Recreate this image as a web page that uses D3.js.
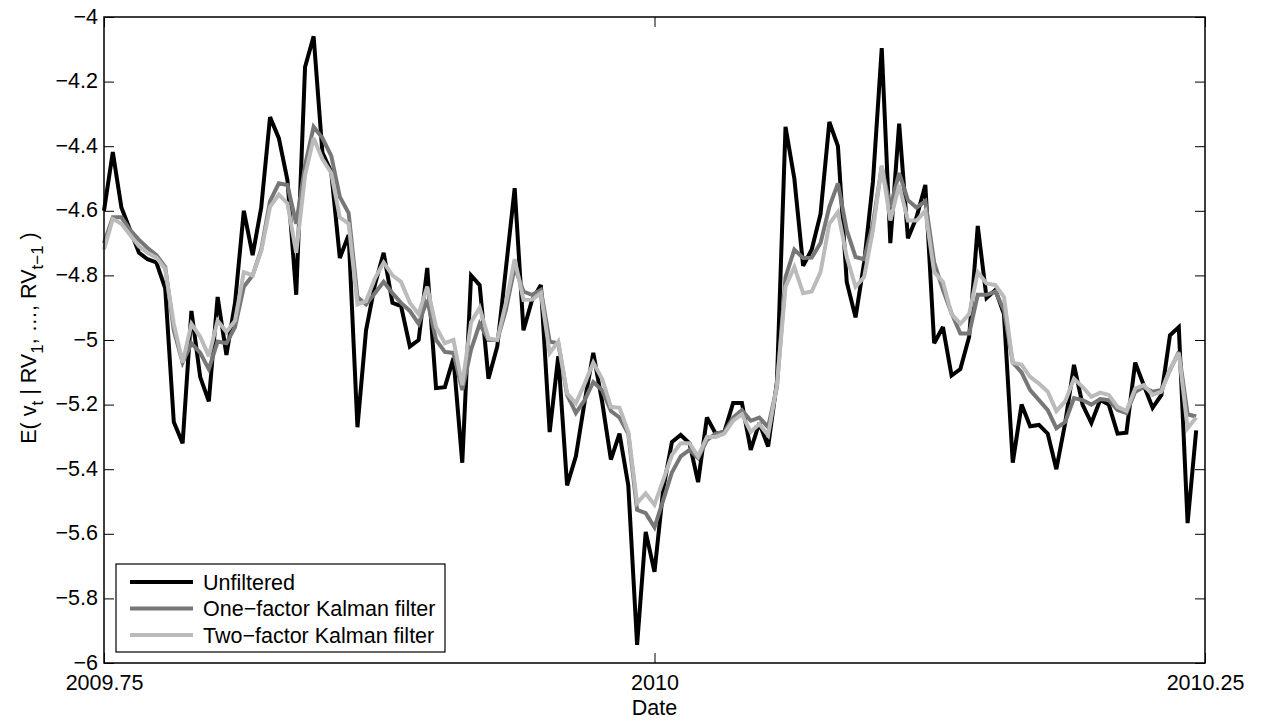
<!DOCTYPE html>
<html>
<head>
<meta charset="utf-8">
<script src="https://cdn.jsdelivr.net/npm/d3@7"></script>
<style>
  body { margin: 0; background: #fff; }
  text { font-family: "Liberation Sans", Arial, sans-serif; }
</style>
</head>
<body>
<div id="chart"></div>
<script>
// dates (fraction of year, one per trading day)
const dates = [
  2009.7500, 2009.7540, 2009.7579, 2009.7619, 2009.7659, 2009.7698, 2009.7738, 2009.7778, 2009.7817, 2009.7857,
  2009.7897, 2009.7937, 2009.7976, 2009.8016, 2009.8056, 2009.8095, 2009.8135, 2009.8175, 2009.8214, 2009.8254,
  2009.8294, 2009.8333, 2009.8373, 2009.8413, 2009.8452, 2009.8492, 2009.8532, 2009.8571, 2009.8611, 2009.8651,
  2009.8690, 2009.8730, 2009.8770, 2009.8810, 2009.8849, 2009.8889, 2009.8929, 2009.8968, 2009.9008, 2009.9048,
  2009.9087, 2009.9127, 2009.9167, 2009.9206, 2009.9246, 2009.9286, 2009.9325, 2009.9365, 2009.9405, 2009.9444,
  2009.9484, 2009.9524, 2009.9563, 2009.9603, 2009.9643, 2009.9683, 2009.9722, 2009.9762, 2009.9802, 2009.9841,
  2009.9881, 2009.9921, 2009.9960, 2010.0000, 2010.0040, 2010.0079, 2010.0119, 2010.0159, 2010.0198, 2010.0238,
  2010.0278, 2010.0317, 2010.0357, 2010.0397, 2010.0437, 2010.0476, 2010.0516, 2010.0556, 2010.0595, 2010.0635,
  2010.0675, 2010.0714, 2010.0754, 2010.0794, 2010.0833, 2010.0873, 2010.0913, 2010.0952, 2010.0992, 2010.1032,
  2010.1071, 2010.1111, 2010.1151, 2010.1190, 2010.1230, 2010.1270, 2010.1310, 2010.1349, 2010.1389, 2010.1429,
  2010.1468, 2010.1508, 2010.1548, 2010.1587, 2010.1627, 2010.1667, 2010.1706, 2010.1746, 2010.1786, 2010.1825,
  2010.1865, 2010.1905, 2010.1944, 2010.1984, 2010.2024, 2010.2063, 2010.2103, 2010.2143, 2010.2183, 2010.2222,
  2010.2262, 2010.2302, 2010.2341, 2010.2381, 2010.2421, 2010.2460
];

const unfiltered = [
  -4.60, -4.418, -4.59, -4.66, -4.73, -4.75, -4.76, -4.84, -5.254, -5.32,
  -4.91, -5.115, -5.19, -4.867, -5.046, -4.885, -4.60, -4.737, -4.59, -4.31,
  -4.375, -4.505, -4.86, -4.155, -4.06, -4.42, -4.48, -4.746, -4.675, -5.27,
  -4.97, -4.83, -4.73, -4.885, -4.895, -5.02, -5.0, -4.777, -5.149, -5.146,
  -5.056, -5.38, -4.80, -4.83, -5.12, -5.02, -4.78, -4.53, -4.97, -4.876,
  -4.83, -5.285, -5.05, -5.45, -5.36, -5.19, -5.04, -5.19, -5.37, -5.29,
  -5.45, -5.944, -5.594, -5.718, -5.46, -5.316, -5.294, -5.32, -5.44, -5.24,
  -5.29, -5.285, -5.195, -5.195, -5.34, -5.257, -5.33, -5.13, -4.34, -4.50,
  -4.77, -4.72, -4.61, -4.325, -4.40, -4.82, -4.93, -4.76, -4.51, -4.096,
  -4.70, -4.33, -4.685, -4.62, -4.52, -5.01, -4.96, -5.11, -5.09, -4.99,
  -4.647, -4.87, -4.845, -4.92, -5.38, -5.20, -5.267, -5.263, -5.29, -5.40,
  -5.257, -5.077, -5.20, -5.257, -5.186, -5.20, -5.29, -5.287, -5.07, -5.14,
  -5.21, -5.17, -4.985, -4.96, -5.567, -5.28
];

const oneFactor = [
  -4.70, -4.62, -4.62, -4.66, -4.69, -4.715, -4.737, -4.774, -4.97, -5.07,
  -5.01, -5.04, -5.09, -5.005, -5.01, -4.96, -4.835, -4.80, -4.72, -4.57,
  -4.515, -4.52, -4.64, -4.46, -4.34, -4.375, -4.43, -4.557, -4.607, -4.867,
  -4.89, -4.855, -4.82, -4.855, -4.885, -4.91, -4.95, -4.876, -5.0, -5.037,
  -5.04, -5.155, -5.03, -4.95, -5.0, -5.0, -4.907, -4.774, -4.85, -4.86,
  -4.845, -5.005, -5.01, -5.17, -5.226, -5.186, -5.13, -5.155, -5.22, -5.24,
  -5.29, -5.526, -5.536, -5.58, -5.495, -5.41, -5.36, -5.34, -5.366, -5.31,
  -5.29, -5.285, -5.24, -5.217, -5.25, -5.24, -5.27, -5.145, -4.805, -4.72,
  -4.746, -4.745, -4.70, -4.588, -4.515, -4.66, -4.743, -4.75, -4.64, -4.464,
  -4.588, -4.483, -4.567, -4.59, -4.57, -4.76, -4.845, -4.917, -4.98, -4.98,
  -4.86, -4.86, -4.85, -4.907, -5.07, -5.10, -5.155, -5.186, -5.217, -5.273,
  -5.254, -5.18, -5.186, -5.20, -5.183, -5.186, -5.217, -5.226, -5.16, -5.146,
  -5.16, -5.155, -5.093, -5.037, -5.23, -5.237
];

const twoFactor = [
  -4.72, -4.625, -4.64, -4.675, -4.71, -4.73, -4.745, -4.78, -4.95, -5.07,
  -4.95, -4.99, -5.05, -4.94, -4.975, -4.94, -4.79, -4.80, -4.725, -4.588,
  -4.55, -4.577, -4.73, -4.49, -4.375, -4.44, -4.483, -4.62, -4.64, -4.89,
  -4.88, -4.81, -4.76, -4.80, -4.82, -4.885, -4.92, -4.835, -4.96, -5.01,
  -5.0, -5.14, -4.945, -4.90, -4.995, -5.0, -4.885, -4.75, -4.876, -4.875,
  -4.855, -5.04, -5.005, -5.165, -5.196, -5.135, -5.07, -5.12, -5.207, -5.21,
  -5.285, -5.505, -5.475, -5.51, -5.433, -5.356, -5.32, -5.32, -5.36, -5.30,
  -5.30, -5.29, -5.25, -5.23, -5.285, -5.26, -5.295, -5.14, -4.835, -4.774,
  -4.855, -4.85, -4.79, -4.64, -4.604, -4.743, -4.835, -4.805, -4.66, -4.46,
  -4.63, -4.52, -4.63, -4.63, -4.60, -4.79, -4.82, -4.92, -4.95, -4.92,
  -4.79, -4.825, -4.83, -4.867, -5.07, -5.077, -5.114, -5.135, -5.16, -5.22,
  -5.19, -5.12, -5.145, -5.176, -5.163, -5.17, -5.207, -5.22, -5.15, -5.14,
  -5.17, -5.16, -5.09, -5.04, -5.273, -5.24
];

const seriesNames = ["Unfiltered", "One\u2212factor Kalman filter", "Two\u2212factor Kalman filter"];
const seriesColors = ["#000000", "#777777", "#bbbbbb"];

const xTicks = [2009.75, 2010, 2010.25];
const xTickLabels = ["2009.75", "2010", "2010.25"];
const yTicks = [-6, -5.8, -5.6, -5.4, -5.2, -5, -4.8, -4.6, -4.4, -4.2, -4];
const yTickLabels = ["\u22126", "\u22125.8", "\u22125.6", "\u22125.4", "\u22125.2", "\u22125",
                     "\u22124.8", "\u22124.6", "\u22124.4", "\u22124.2", "\u22124"];

// plot box
const W = 1101, H = 646;
const fs = "21.5px";

const svg = d3.select("#chart")
    .append("svg")
    .attr("width", 1262)
    .attr("height", 723)
    .append("g")
    .attr("transform", "translate(104, 17)");

const x = d3.scaleLinear().domain([2009.75, 2010.25]).range([0, W]);
const y = d3.scaleLinear().domain([-6, -4]).range([H, 0]);

// axes, ticks pointing inward like matlab
svg.append("g")
    .attr("transform", `translate(0, ${H})`)
    .call(d3.axisBottom(x).tickValues(xTicks)
        .tickFormat((d, i) => xTickLabels[i]).tickSize(-10).tickPadding(12));
svg.append("g")
    .call(d3.axisTop(x).tickValues(xTicks).tickFormat("").tickSize(-10));
const yAxis = svg.append("g")
    .call(d3.axisLeft(y).tickValues(yTicks)
        .tickFormat((d, i) => yTickLabels[i]).tickSize(-10).tickPadding(6));
yAxis.selectAll("text").attr("dy", "0.28em");
svg.append("g")
    .attr("transform", `translate(${W}, 0)`)
    .call(d3.axisRight(y).tickValues(yTicks).tickFormat("").tickSize(-10));

svg.selectAll(".domain").remove();
svg.selectAll(".tick line").attr("stroke", "#000").attr("stroke-width", 1);
svg.selectAll(".tick text").style("font-size", fs).attr("fill", "#000");

// lines
const line = d3.line()
    .x((d, i) => x(dates[i]))
    .y(d => y(d));

[unfiltered, oneFactor, twoFactor].forEach((s, k) => {
    svg.append("path")
        .datum(s)
        .attr("fill", "none")
        .attr("stroke", seriesColors[k])
        .attr("stroke-width", 4)
        .attr("stroke-linejoin", "miter")
        .attr("stroke-miterlimit", 3)
        .attr("d", line);
});

// frame
svg.append("rect")
    .attr("width", W).attr("height", H)
    .attr("fill", "none").attr("stroke", "#000").attr("stroke-width", 1.5);

// legend
const leg = svg.append("g").attr("transform", "translate(12, 547)");
leg.append("rect")
    .attr("width", 329).attr("height", 88)
    .attr("fill", "#fff").attr("stroke", "#000").attr("stroke-width", 1.2);
seriesNames.forEach((name, k) => {
    const cy = 18 + k * 26.5;
    leg.append("line")
        .attr("x1", 14).attr("x2", 77).attr("y1", cy).attr("y2", cy)
        .attr("stroke", seriesColors[k]).attr("stroke-width", 4);
    leg.append("text")
        .attr("x", 87).attr("y", cy).attr("dy", "0.36em")
        .style("font-size", fs)
        .text(name);
});

// x label
svg.append("text")
    .attr("x", x(2010)).attr("y", H + 52)
    .attr("text-anchor", "middle")
    .style("font-size", fs)
    .text("Date");

// y label with subscripts
const yl = svg.append("text")
    .attr("transform", `translate(-68, ${H / 2 - 2}) rotate(-90)`)
    .attr("text-anchor", "middle")
    .style("font-size", fs);
yl.append("tspan").text("E( v");
yl.append("tspan").attr("dy", 7).style("font-size", "17px").text("t");
yl.append("tspan").attr("dy", -7).text(" | RV");
yl.append("tspan").attr("dy", 7).style("font-size", "17px").text("1");
yl.append("tspan").attr("dy", -7).text(", \u2026, RV");
yl.append("tspan").attr("dy", 7).style("font-size", "17px").text("t\u22121");
yl.append("tspan").attr("dy", -7).text(" )");
</script>
</body>
</html>
